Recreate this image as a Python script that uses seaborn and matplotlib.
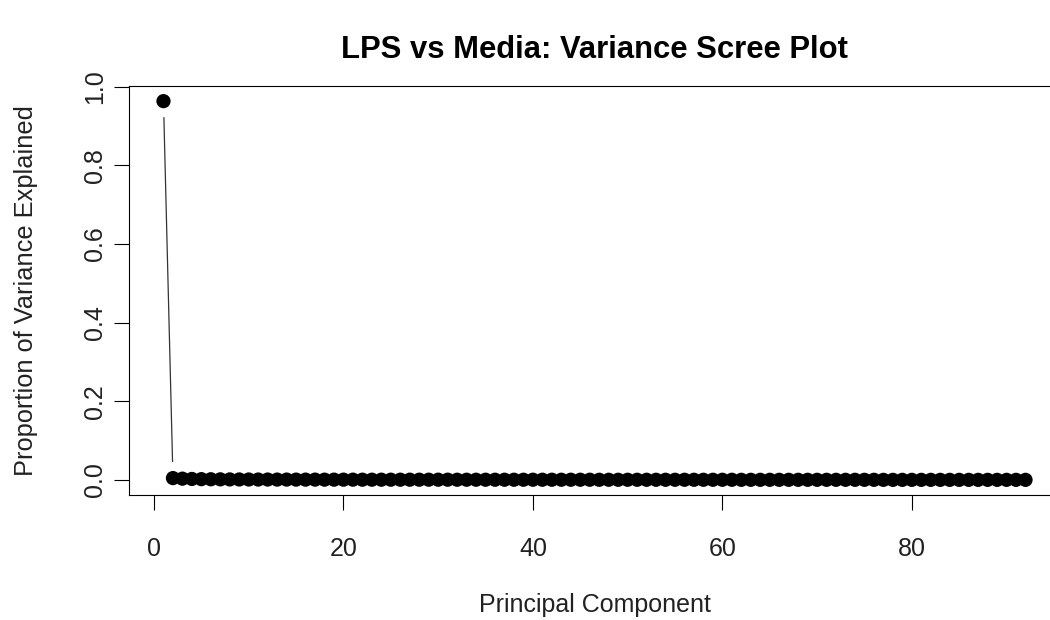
import matplotlib
matplotlib.use("Agg")
import matplotlib.pyplot as plt
import numpy as np
import pandas as pd
import seaborn as sns

# Proportion of variance explained by each principal component
pc1_variance = [0.963]
remaining_variance = [
    0.0046, 0.0031, 0.0024, 0.0019, 0.0016, 0.0014, 0.0012, 0.0011, 0.0010, 0.0009,
    0.0009, 0.0008, 0.0008, 0.0007, 0.0007, 0.0007, 0.0006, 0.0006, 0.0006, 0.0006,
    0.0005, 0.0005, 0.0005, 0.0005, 0.0005, 0.0005, 0.0005, 0.0005, 0.0005, 0.0005,
    0.0004, 0.0004, 0.0004, 0.0004, 0.0004, 0.0004, 0.0004, 0.0004, 0.0004, 0.0004,
    0.0004, 0.0004, 0.0004, 0.0004, 0.0004, 0.0003, 0.0003, 0.0003, 0.0003, 0.0003,
    0.0003, 0.0003, 0.0003, 0.0003, 0.0003, 0.0003, 0.0003, 0.0003, 0.0003, 0.0003,
    0.0002, 0.0002, 0.0002, 0.0002, 0.0002, 0.0002, 0.0002, 0.0002, 0.0002, 0.0002,
    0.0002, 0.0002, 0.0002, 0.0002, 0.0002, 0.0001, 0.0001, 0.0001, 0.0001, 0.0001,
    0.0001, 0.0001, 0.0001, 0.0001, 0.0001, 0.0001, 0.0001, 0.0001, 0.0001, 0.0001,
    0.0001,
]
variance = pc1_variance + remaining_variance
components = list(range(1, len(variance) + 1))

x_ticks = [0, 20, 40, 60, 80]
y_ticks = [0.0, 0.2, 0.4, 0.6, 0.8, 1.0]

title = "LPS vs Media: Variance Scree Plot"
x_label = "Principal Component"
y_label = "Proportion of Variance Explained"

df = pd.DataFrame({"pc": components, "var": variance})

sns.set_theme(style="white")
plt.rcParams["font.family"] = ["Liberation Sans", "DejaVu Sans"]

W, H, DPI = 1050, 620, 100
fig = plt.figure(figsize=(W / DPI, H / DPI), dpi=DPI)
left_px, right_px, top_px, bottom_px = 129, 1060, 86, 495
ax = fig.add_axes([left_px / W, 1 - bottom_px / H,
                   (right_px - left_px) / W, (bottom_px - top_px) / H])

# R-style axis limits: data range padded by 4% on each side
n = len(variance)
xr = n - 1
ax.set_xlim(1 - 0.04 * xr, n + 0.04 * xr)
ymin, ymax = min(variance), max(variance)
yr = ymax - ymin
ax.set_ylim(ymin - 0.04 * yr, ymax + 0.04 * yr)

# Points
sns.scatterplot(data=df, x="pc", y="var", ax=ax, s=105, color="black",
                edgecolor="none", linewidth=0, zorder=3, legend=False)

# Connecting lines with gaps around each point (type = "b")
fig.canvas.draw()
pts = ax.transData.transform(np.column_stack([components, variance]))
gap = 16.0
inv = ax.transData.inverted()
for (x0, y0), (x1, y1) in zip(pts[:-1], pts[1:]):
    d = np.hypot(x1 - x0, y1 - y0)
    if d <= 2 * gap:
        continue
    ux, uy = (x1 - x0) / d, (y1 - y0) / d
    a = inv.transform((x0 + ux * gap, y0 + uy * gap))
    b = inv.transform((x1 - ux * gap, y1 - uy * gap))
    ax.plot([a[0], b[0]], [a[1], b[1]], color="#333333", lw=0.9, zorder=2,
            solid_capstyle="butt")

ax.set_xticks(x_ticks)
ax.set_xticklabels([str(t) for t in x_ticks])
ax.set_yticks(y_ticks)
ax.set_yticklabels([f"{t:.1f}" for t in y_ticks], rotation=90, va="center")

for s in ax.spines.values():
    s.set_visible(True)
    s.set_color("black")
    s.set_linewidth(0.8)

ax.tick_params(axis="both", which="major", direction="out", length=11,
               width=0.8, color="black", labelsize=18, labelcolor="#222222",
               bottom=True, left=True, top=False, right=False)
ax.tick_params(axis="x", pad=19)
ax.tick_params(axis="y", pad=5)
ax.grid(False)

ax.set_xlabel(x_label, fontsize=18, labelpad=23, color="#222222")
ax.set_ylabel(y_label, fontsize=18.3, labelpad=32, color="#222222")

fig.text((left_px + right_px) / 2 / W, 1 - 50 / H, title, ha="center",
         va="center", fontsize=22.3, fontweight="bold", color="black")

fig.savefig("out.png", dpi=DPI)
